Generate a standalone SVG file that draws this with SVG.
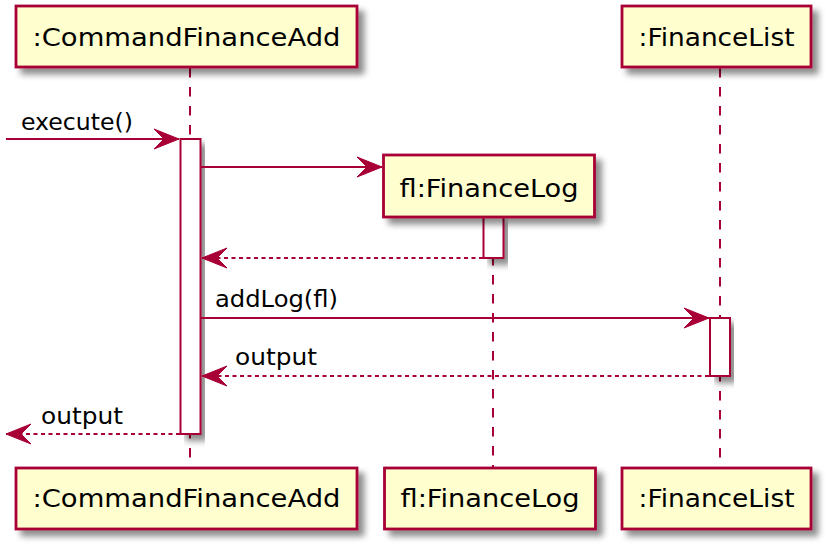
<svg xmlns="http://www.w3.org/2000/svg" width="830" height="549" viewBox="0 0 830 549">
<defs>
<filter id="sh" x="-10%" y="-10%" width="130%" height="150%">
<feGaussianBlur in="SourceAlpha" stdDeviation="3" result="b"/>
<feOffset in="b" dx="6" dy="6" result="o"/>
<feColorMatrix in="o" type="matrix" values="0 0 0 0 0  0 0 0 0 0  0 0 0 0 0  0 0 0 0.45 0" result="c"/>
<feMerge><feMergeNode in="c"/><feMergeNode in="SourceGraphic"/></feMerge>
</filter>
<marker id="ah" markerUnits="userSpaceOnUse" markerWidth="30" markerHeight="24" refX="25" refY="11" orient="auto" overflow="visible">
<path d="M0,1 L25,11 L0,21 L10,11 Z" fill="#A80036" stroke="#A80036" stroke-width="1" stroke-dasharray="none"/>
</marker>
<style>
.box{fill:#FEFECE;stroke:#A80036;stroke-width:2.8;filter:url(#sh)}
.act{fill:#FFFFFF;stroke:#A80036;stroke-width:2;filter:url(#sh)}
.life{stroke:#A80036;stroke-width:2;stroke-dasharray:9.5,9.5;fill:none}
.pt{font-family:"DejaVu Sans","Liberation Sans",sans-serif;font-size:24.5px;fill:#000;text-anchor:middle}
.mt{font-family:"DejaVu Sans","Liberation Sans",sans-serif;font-size:23.5px;fill:#000}
.msg{stroke:#A80036;stroke-width:2;fill:none;marker-end:url(#ah)}
.ret{stroke:#A80036;stroke-width:2;fill:none;stroke-dasharray:4,3.5;marker-end:url(#ah)}
</style>
</defs>
<rect width="830" height="549" fill="#FFFFFF"/>
<g id="lifelines">
<line class="life" x1="190" y1="68" x2="190" y2="468"/>
<line class="life" x1="493" y1="218" x2="493" y2="468"/>
<line class="life" x1="720" y1="68" x2="720" y2="468"/>
</g>
<g id="activations">
<rect class="act" x="180.5" y="139" width="20" height="295"/>
<rect class="act" x="483.5" y="217" width="20" height="41"/>
<rect class="act" x="710" y="318" width="20" height="58"/>
</g>
<g id="p_cmd">
<rect class="box" x="16" y="6" width="341" height="61"/>
<text class="pt" x="186.5" y="46" textLength="308" lengthAdjust="spacingAndGlyphs">:CommandFinanceAdd</text>
<rect class="box" x="16" y="468" width="341" height="61"/>
<text class="pt" x="186.5" y="507" textLength="308" lengthAdjust="spacingAndGlyphs">:CommandFinanceAdd</text>
</g>
<g id="p_fl">
<rect class="box" x="383.5" y="155" width="211" height="62"/>
<text class="pt" x="489" y="197" textLength="179" lengthAdjust="spacingAndGlyphs">fl:FinanceLog</text>
<rect class="box" x="384.5" y="468" width="211" height="61"/>
<text class="pt" x="490" y="507" textLength="179" lengthAdjust="spacingAndGlyphs">fl:FinanceLog</text>
</g>
<g id="p_list">
<rect class="box" x="622" y="6" width="189" height="61"/>
<text class="pt" x="716.5" y="46" textLength="156" lengthAdjust="spacingAndGlyphs">:FinanceList</text>
<rect class="box" x="622" y="468" width="189" height="61"/>
<text class="pt" x="716.5" y="507" textLength="156" lengthAdjust="spacingAndGlyphs">:FinanceList</text>
</g>
<g id="connectors">
<line class="msg" x1="6" y1="139" x2="179" y2="139"/>
<text class="mt" x="21" y="130" textLength="112" lengthAdjust="spacingAndGlyphs">execute()</text>
<line class="msg" x1="201" y1="167" x2="382" y2="167"/>
<line class="ret" x1="483" y1="258" x2="202" y2="258"/>
<line class="msg" x1="201" y1="318" x2="709" y2="318"/>
<text class="mt" x="215" y="307" textLength="123" lengthAdjust="spacingAndGlyphs">addLog(fl)</text>
<line class="ret" x1="709" y1="376" x2="202" y2="376"/>
<text class="mt" x="235" y="365" textLength="82" lengthAdjust="spacingAndGlyphs">output</text>
<line class="ret" x1="180" y1="434" x2="6" y2="434"/>
<text class="mt" x="41" y="424" textLength="82" lengthAdjust="spacingAndGlyphs">output</text>
</g>
</svg>
